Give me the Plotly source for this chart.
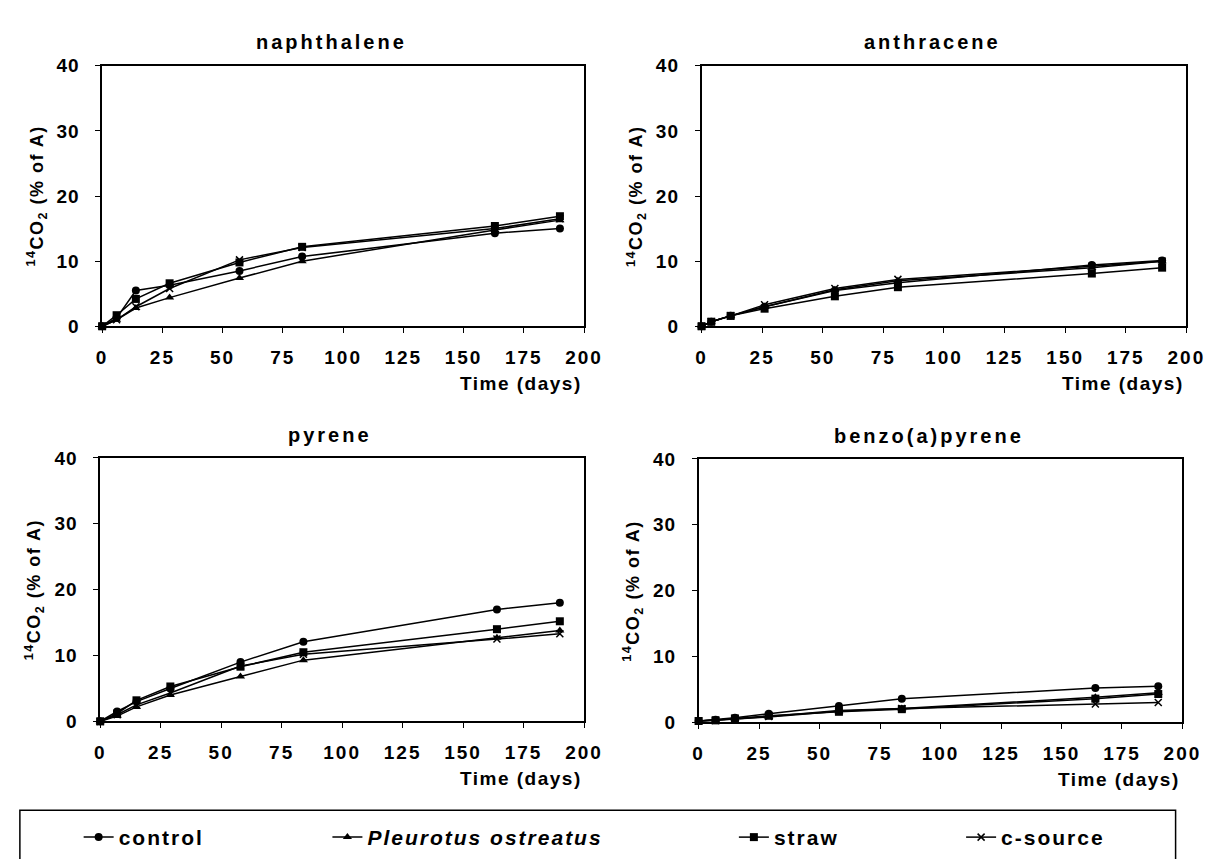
import plotly.graph_objects as go

series_names = ["control", "Pleurotus ostreatus", "straw", "c-source"]
symbols = ["circle", "triangle-up", "square", "x-thin-open"]

panel_titles = ["naphthalene", "anthracene", "pyrene", "benzo(a)pyrene"]

days_naph = [0, 6, 14, 28, 57, 83, 163, 190]
naph_control = [0, 1.3, 5.5, 6.3, 8.5, 10.7, 14.3, 15.0]
naph_pleurotus = [0, 1.0, 2.8, 4.4, 7.4, 10.0, 14.8, 16.3]
naph_straw = [0, 1.7, 4.2, 6.6, 9.8, 12.2, 15.4, 16.9]
naph_csource = [0, 1.0, 3.0, 5.8, 10.2, 12.1, 15.0, 16.5]

days_anth = [0, 4, 12, 26, 55, 81, 161, 190]
anth_control = [0, 0.7, 1.6, 3.0, 5.5, 6.7, 9.4, 10.1]
anth_pleurotus = [0, 0.7, 1.6, 3.0, 5.6, 7.0, 9.0, 10.0]
anth_straw = [0, 0.7, 1.6, 2.7, 4.6, 6.0, 8.1, 9.0]
anth_csource = [0, 0.7, 1.6, 3.3, 5.8, 7.2, 9.2, 10.0]

days_pyr = [0, 7, 15, 29, 58, 84, 164, 190]
pyr_control = [0, 1.5, 3.0, 5.0, 9.0, 12.1, 17.0, 18.0]
pyr_pleurotus = [0, 0.8, 2.2, 4.0, 6.8, 9.3, 12.7, 13.8]
pyr_straw = [0, 1.2, 3.2, 5.3, 8.3, 10.5, 14.0, 15.2]
pyr_csource = [0, 1.0, 2.5, 4.3, 8.4, 10.2, 12.5, 13.3]

days_bap = [0, 7, 15, 29, 58, 84, 164, 190]
bap_control = [0.2, 0.4, 0.7, 1.3, 2.5, 3.6, 5.2, 5.5]
bap_pleurotus = [0.2, 0.3, 0.5, 0.8, 1.7, 2.1, 3.8, 4.5]
bap_straw = [0.2, 0.3, 0.6, 1.0, 1.6, 2.0, 3.6, 4.3]
bap_csource = [0.2, 0.3, 0.5, 0.9, 1.8, 2.1, 2.8, 3.0]

x_ticks = [0, 25, 50, 75, 100, 125, 150, 175, 200]
y_ticks = [0, 10, 20, 30, 40]

panels = [
    (days_naph, [naph_control, naph_pleurotus, naph_straw, naph_csource]),
    (days_anth, [anth_control, anth_pleurotus, anth_straw, anth_csource]),
    (days_pyr, [pyr_control, pyr_pleurotus, pyr_straw, pyr_csource]),
    (days_bap, [bap_control, bap_pleurotus, bap_straw, bap_csource]),
]

W, H = 1215, 859
# plot areas in pixels: (left, right, top, bottom)
boxes = [(90, 582, 49, 316), (702, 1197, 49, 316), (88, 582, 451, 721), (699, 1193, 452, 722)]

FONT = "Liberation Sans, Arial, sans-serif"


def sp(text, ls=1.5):
    return f'<span style="letter-spacing:{ls}px">{text}</span>'


fig = go.Figure()
annotations = []
layout_axes = {}
legend_names = ["legend", "legend2", "legend3", "legend4"]

for i, ((days, vals), (l, r, t, b)) in enumerate(zip(panels, boxes)):
    n = i + 1
    xa = "x" if n == 1 else f"x{n}"
    ya = "y" if n == 1 else f"y{n}"
    for j, (name, sym, v) in enumerate(zip(series_names, symbols, vals)):
        label = sp(f"<i>{name}</i>" if j == 1 else name, 2)
        fig.add_trace(go.Scatter(
            x=days, y=v, mode="lines+markers", name=label,
            xaxis=xa, yaxis=ya, showlegend=(i == 0), legend=legend_names[j],
            line=dict(color="black", width=1.5),
            marker=dict(symbol=sym, size=8 if sym != "x-thin-open" else 7,
                        color="black", line=dict(color="black", width=1.5 if sym == "x-thin-open" else 0)),
            cliponaxis=False,
        ))
    common = dict(showline=True, linecolor="black", linewidth=1.5, mirror=True,
                  ticks="outside", ticklen=5, tickcolor="black", tickwidth=1,
                  showgrid=False, zeroline=False,
                  tickfont=dict(family=FONT, size=19, color="black", weight="bold"))
    layout_axes["xaxis" if n == 1 else f"xaxis{n}"] = dict(
        domain=[l / W, r / W], anchor=ya, range=[0, 200], tickvals=x_ticks,
        ticktext=[sp(str(v), 2) for v in x_ticks], ticklabelstandoff=8, **common)
    layout_axes["yaxis" if n == 1 else f"yaxis{n}"] = dict(
        domain=[1 - b / H, 1 - t / H], anchor=xa, range=[0, 40], tickvals=y_ticks,
        ticktext=[sp(str(v), 1) for v in y_ticks], ticklabelstandoff=12, **common)
    annotations.append(dict(x=((l + r) / 2 - 12) / W, y=1 - (t - 24) / H, xref="paper", yref="paper",
                            text=sp(panel_titles[i], 3), showarrow=False, xanchor="center", yanchor="middle",
                            font=dict(family=FONT, size=20, color="black", weight="bold")))
    annotations.append(dict(x=r / W, y=1 - (b + 59) / H, xref="paper", yref="paper",
                            text=sp("Time (days)", 1.5), showarrow=False, xanchor="right", yanchor="middle",
                            font=dict(family=FONT, size=19, color="black", weight="bold")))
    annotations.append(dict(x=(l - 67) / W, y=1 - (t + b) / 2 / H, xref="paper", yref="paper",
                            text=sp("<sup>14</sup>CO<sub>2</sub> (% of A)", 1.5), showarrow=False, textangle=-90,
                            xanchor="center", yanchor="middle",
                            font=dict(family=FONT, size=18, color="black", weight="bold")))

legend_text_x = [112, 366, 781, 1013]
legend_y = 840
legend_cfg = {}
for name, tx in zip(legend_names, legend_text_x):
    legend_cfg[name] = dict(x=(tx - 46) / W, y=1 - legend_y / H, xanchor="left", yanchor="middle",
                            bgcolor="rgba(0,0,0,0)", borderwidth=0, itemwidth=30,
                            font=dict(family=FONT, size=21, color="black", weight="bold"))

fig.update_layout(
    width=W, height=H, margin=dict(l=0, r=0, t=0, b=0),
    plot_bgcolor="white", paper_bgcolor="white",
    annotations=annotations,
    shapes=[dict(type="rect", xref="paper", yref="paper", x0=6 / W, x1=1186 / W,
                 y0=-0.02, y1=1 - 812 / H, line=dict(color="black", width=1.5))],
    **legend_cfg,
    **layout_axes,
)

fig.write_html("out.html")
